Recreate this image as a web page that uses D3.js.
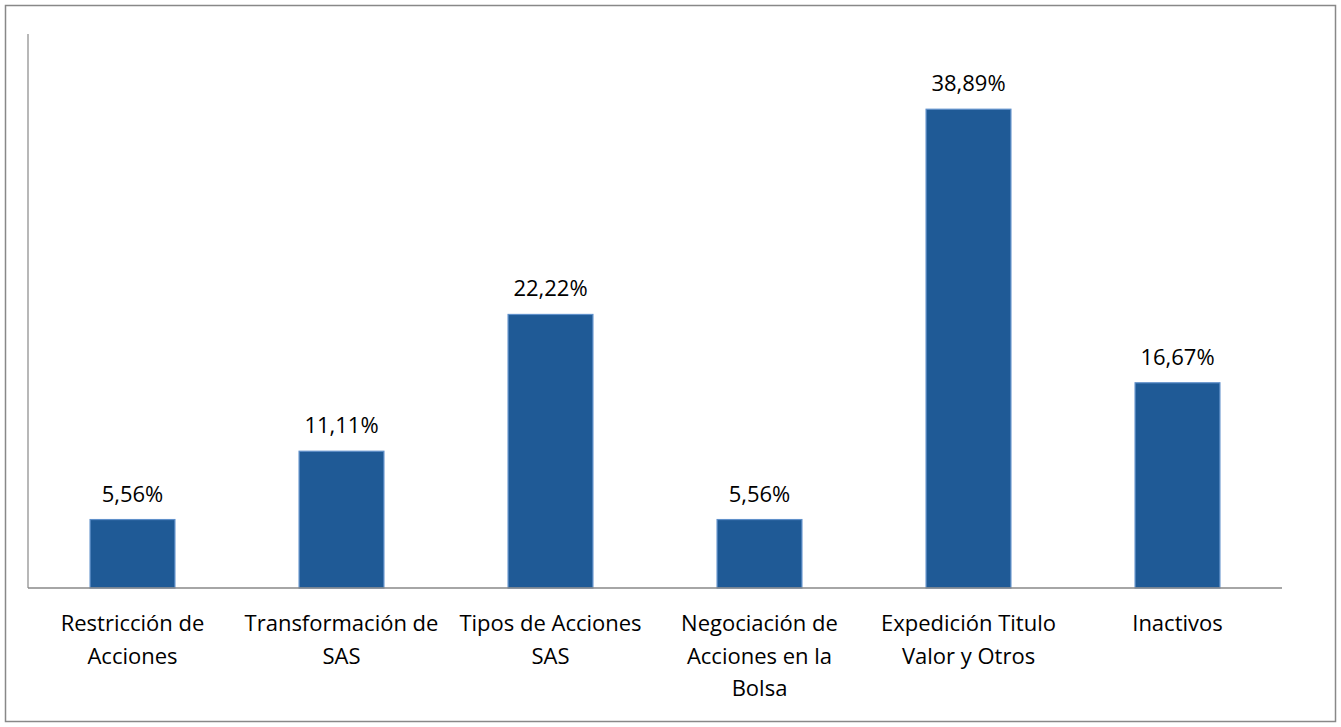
<!DOCTYPE html>
<html>
<head>
<meta charset="utf-8">
<script src="https://cdn.jsdelivr.net/npm/d3@7"></script>
<style>
  body { margin: 0; background: #fff; }
  svg text { font-family: "Open Sans", Lato, sans-serif; fill: #000; }
</style>
</head>
<body>
<div id="chart"></div>
<script>
// Chart data
const categories = [
  ['Restricción de', 'Acciones'],
  ['Transformación de', 'SAS'],
  ['Tipos de Acciones', 'SAS'],
  ['Negociación de', 'Acciones en la', 'Bolsa'],
  ['Expedición Titulo', 'Valor y Otros'],
  ['Inactivos']
];
const values = [5.56, 11.11, 22.22, 5.56, 38.89, 16.67];
const yMax = 45;

const width = 1341, height = 727;
const plotLeft = 28, plotRight = 1282, plotTop = 34, plotBottom = 588;

const svg = d3.select('#chart')
    .append('svg')
    .attr('width', width)
    .attr('height', height);

// outer frame
svg.append('rect')
    .attr('x', 5.5).attr('y', 5.5)
    .attr('width', width - 11).attr('height', height - 11)
    .style('fill', 'none')
    .style('stroke', '#888888')
    .style('stroke-width', 1.5);

const scaleX = d3.scaleBand()
    .domain(d3.range(categories.length))
    .range([plotLeft, plotRight])
    .paddingInner(0.594)
    .paddingOuter(0.297);

const scaleY = d3.scaleLinear().domain([0, yMax]).range([plotBottom, plotTop]);

// bars
svg.selectAll('.bar')
    .data(values)
    .enter()
    .append('rect')
    .attr('class', 'bar')
    .attr('x', (d, i) => scaleX(i))
    .attr('y', d => scaleY(d))
    .attr('width', scaleX.bandwidth())
    .attr('height', d => scaleY(0) - scaleY(d))
    .style('fill', '#1F5A96')
    .style('stroke', '#5F90CA')
    .style('stroke-width', 1.2);

// axes (no ticks)
svg.append('line')
    .attr('x1', plotLeft).attr('x2', plotLeft)
    .attr('y1', scaleY(yMax)).attr('y2', scaleY(0))
    .style('stroke', '#A0A0A0').style('stroke-width', 1.5);

svg.append('line')
    .attr('x1', plotLeft).attr('x2', plotRight)
    .attr('y1', scaleY(0)).attr('y2', scaleY(0))
    .style('stroke', '#888888').style('stroke-width', 1.5);

// value labels
svg.selectAll('.val')
    .data(values)
    .enter()
    .append('text')
    .attr('class', 'val')
    .attr('x', (d, i) => scaleX(i) + scaleX.bandwidth() / 2)
    .attr('y', d => scaleY(d) - 18)
    .style('text-anchor', 'middle')
    .style('font-size', '22px')
    .text(d => d.toFixed(2).replace('.', ',') + '%');

// category labels
const cats = svg.selectAll('.cat')
    .data(categories)
    .enter()
    .append('text')
    .attr('class', 'cat')
    .attr('x', (d, i) => scaleX(i) + scaleX.bandwidth() / 2)
    .attr('y', 631)
    .style('text-anchor', 'middle')
    .style('font-size', '22px');

cats.each(function(d, i) {
    const t = d3.select(this);
    d.forEach((line, j) => {
        t.append('tspan')
            .attr('x', scaleX(i) + scaleX.bandwidth() / 2)
            .attr('dy', j === 0 ? 0 : 32.5)
            .text(line);
    });
});
</script>
</body>
</html>
